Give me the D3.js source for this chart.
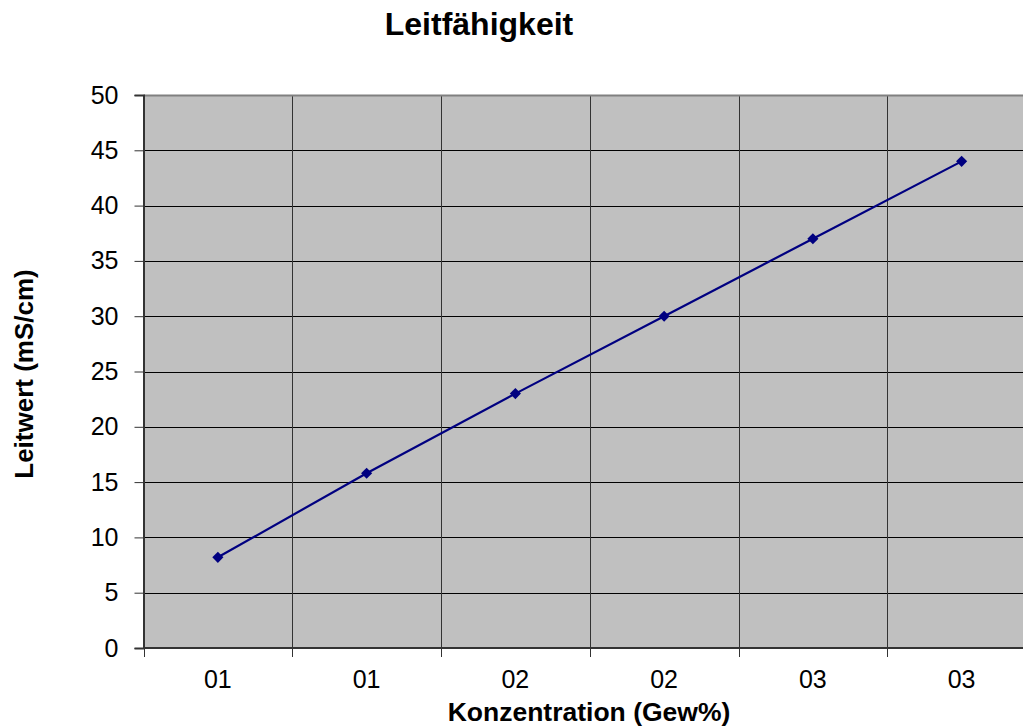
<!DOCTYPE html>
<html>
<head>
<meta charset="utf-8">
<script src="https://cdn.jsdelivr.net/npm/d3@7"></script>
<style>
  html, body { margin: 0; padding: 0; background: #fff; }
  svg { display: block; font-family: Arial, "Liberation Sans", sans-serif; }
</style>
</head>
<body>
<svg id="chart" width="1023" height="727"></svg>
<script>
const title = "Leitfähigkeit";
const xTitle = "Konzentration (Gew%)";
const yTitle = "Leitwert (mS/cm)";
const categories = ["01", "01", "02", "02", "03", "03"];
const values = [8.2, 15.8, 23.0, 30.0, 37.0, 44.0];
const yTicks = [0, 5, 10, 15, 20, 25, 30, 35, 40, 45, 50];

const svg = d3.select("#chart");
const pL = 143.5, pR = 1036, pT = 95, pB = 648;

const x = d3.scaleBand().domain(d3.range(categories.length)).range([pL, pR]).padding(0);
const y = d3.scaleLinear().domain([0, 50]).range([pB, pT]);

// plot background
svg.append("rect").attr("x", pL).attr("y", pT)
  .attr("width", pR - pL).attr("height", pB - pT)
  .attr("fill", "#c0c0c0");

// horizontal gridlines
svg.append("g").selectAll("line").data(yTicks.filter(d => d > 0 && d < 50)).join("line")
  .attr("x1", pL).attr("x2", pR)
  .attr("y1", d => Math.round(y(d)) + 0.5).attr("y2", d => Math.round(y(d)) + 0.5)
  .attr("stroke", "#000").attr("stroke-width", 1);

// vertical gridlines at category boundaries
const bounds = d3.range(1, categories.length).map(i => x(i));
svg.append("g").selectAll("line").data(bounds).join("line")
  .attr("x1", d => Math.round(d) + 0.5).attr("x2", d => Math.round(d) + 0.5)
  .attr("y1", pT).attr("y2", pB)
  .attr("stroke", "#333").attr("stroke-width", 1);

// top border
svg.append("line").attr("x1", pL).attr("x2", pR)
  .attr("y1", pT + 0.5).attr("y2", pT + 0.5)
  .attr("stroke", "#808080").attr("stroke-width", 2);

// y axis
const yAxis = d3.axisLeft(y).tickValues(yTicks).tickSize(9).tickPadding(16).tickFormat(d3.format("d"));
const gy = svg.append("g").attr("transform", `translate(${pL},0)`).call(yAxis);
gy.select(".domain").attr("stroke", "#333").attr("stroke-width", 2);
gy.selectAll(".tick line").attr("stroke", "#333");
gy.selectAll(".tick text").attr("font-size", 25).attr("fill", "#000")
  .attr("font-family", "Arial, 'Liberation Sans', sans-serif");

// x axis: ticks at boundaries, labels at centres
const gx = svg.append("g").attr("transform", `translate(0,${pB})`);
gx.append("line").attr("x1", pL).attr("x2", pR).attr("y1", 0).attr("y2", 0)
  .attr("stroke", "#333").attr("stroke-width", 2);
gx.selectAll("line.tk").data(d3.range(0, categories.length + 1).map(i => pL + i * x.bandwidth()))
  .join("line").attr("class", "tk")
  .attr("x1", d => Math.round(d) + 0.5).attr("x2", d => Math.round(d) + 0.5)
  .attr("y1", 0).attr("y2", 9).attr("stroke", "#333");
gx.selectAll("text").data(categories).join("text")
  .attr("x", (d, i) => x(i) + x.bandwidth() / 2).attr("y", 40)
  .attr("text-anchor", "middle").attr("font-size", 25).attr("fill", "#000")
  .text(d => d);

// line
const line = d3.line().x((d, i) => x(i) + x.bandwidth() / 2).y(d => y(d));
svg.append("path").datum(values).attr("d", line)
  .attr("fill", "none").attr("stroke", "#000080").attr("stroke-width", 2.2);

// diamond markers
svg.append("g").selectAll("path").data(values).join("path")
  .attr("transform", (d, i) => `translate(${x(i) + x.bandwidth() / 2},${y(d)}) rotate(45)`)
  .attr("d", d3.symbol().type(d3.symbolSquare).size(62))
  .attr("fill", "#000080");

// titles
svg.append("text").attr("x", 479).attr("y", 35).attr("text-anchor", "middle")
  .attr("font-size", 32).attr("font-weight", "bold").text(title);
svg.append("text").attr("x", 589).attr("y", 721).attr("text-anchor", "middle")
  .attr("font-size", 26.5).attr("font-weight", "bold").text(xTitle);
svg.append("text").attr("transform", "translate(33,374) rotate(-90)").attr("text-anchor", "middle")
  .attr("font-size", 26).attr("font-weight", "bold").text(yTitle);
</script>
</body>
</html>
